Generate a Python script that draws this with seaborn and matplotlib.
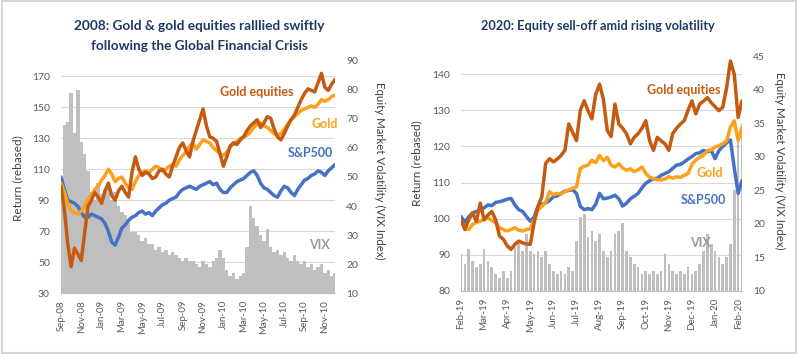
import matplotlib
matplotlib.use("Agg")
import matplotlib.pyplot as plt
from matplotlib.patches import Rectangle
import numpy as np
import seaborn as sns

sns.set_style("white")
plt.rcParams['font.family'] = ['Lato', 'DejaVu Sans']

# ---- 2008 panel (Sep-08 .. Dec-10), one point ~ every 1.4 weeks
labels_08 = ["Sep-08", "Nov-08", "Jan-09", "Mar-09", "May-09", "Jul-09", "Sep-09",
             "Nov-09", "Jan-10", "Mar-10", "May-10", "Jul-10", "Sep-10", "Nov-10"]
spx_08 = [105, 97, 90, 89, 88, 86, 82, 79, 79, 81,
          80, 79, 78, 75, 70, 63, 61, 66, 72, 74,
          77, 79, 80, 82, 83, 81, 82, 80, 83, 85,
          87, 88, 90, 91, 92, 95, 97, 98, 99, 98,
          97, 99, 100, 101, 102, 100, 101, 97, 95, 95,
          98, 100, 102, 103, 104, 106, 108, 109, 106, 101,
          98, 97, 95, 93, 92, 96, 99, 98, 95, 93,
          97, 100, 103, 104, 106, 107, 109, 108, 106, 109,
          111, 113]
gold_08 = [101, 95, 88, 83, 82, 81, 83, 86, 91, 93,
           97, 99, 103, 106, 110, 107, 102, 104, 105, 101,
           98, 97, 102, 106, 108, 109, 108, 110, 112, 111,
           109, 110, 112, 113, 112, 116, 119, 121, 125, 127,
           123, 126, 129, 128, 127, 124, 122, 120, 119, 121,
           124, 127, 128, 130, 131, 132, 134, 137, 139, 140,
           138, 137, 135, 133, 132, 133, 136, 139, 142, 144,
           146, 148, 149, 150, 151, 150, 152, 155, 154, 155,
           157, 158]
geq_08 = [99, 84, 62, 47, 59, 55, 51, 69, 86, 90,
          95, 92, 88, 96, 101, 93, 90, 96, 99, 95,
          92, 108, 118, 110, 106, 108, 107, 104, 105, 109,
          110, 107, 105, 112, 118, 124, 127, 122, 118, 128,
          135, 142, 149, 138, 131, 130, 128, 120, 112, 118,
          125, 127, 126, 129, 131, 135, 138, 140, 142, 137,
          140, 144, 143, 136, 131, 129, 133, 138, 142, 145,
          150, 155, 159, 162, 161, 160, 166, 172, 163, 161,
          165, 168]
vix_08 = [45, 68, 69, 79, 65, 80, 62, 58, 52, 45,
          42, 48, 44, 45, 47, 42, 45, 40, 38, 37,
          34, 31, 31, 30, 28, 29, 27, 27, 25, 26,
          24, 25, 23, 24, 23, 22, 21, 22, 21, 21,
          20, 19, 21, 20, 19, 21, 22, 25, 22, 18,
          16, 17, 15, 16, 17, 26, 40, 36, 33, 30,
          28, 32, 26, 24, 25, 23, 24, 22, 21, 23,
          21, 20, 21, 19, 20, 18, 19, 20, 17, 18,
          16, 17]

# ---- 2020 panel (Feb-19 .. early Mar-20), one point ~ every 3.5 trading days
labels_20 = ["Feb-19", "Mar-19", "Apr-19", "May-19", "Jun-19", "Jul-19", "Aug-19",
             "Sep-19", "Oct-19", "Nov-19", "Dec-19", "Jan-20", "Feb-20"]
spx_20 = [100.6, 99.0, 100.5, 101.6, 102, 102.5, 103, 103.8, 103.6, 104.5,
          104.7, 105, 105.4, 105.6, 103.8, 102.5, 102, 100.6, 99.3, 100.5,
          103.4, 104, 104.3, 105, 106.1, 106.3, 107, 107.6, 107.8, 108,
          107, 103.4, 102.5, 102.8, 102.5, 104, 107, 105.5, 105.7, 106,
          106.5, 105.5, 103.5, 104.3, 105.5, 106.2, 107, 108.5, 109.8, 110.5,
          111, 111.2, 112, 112.5, 113, 113.9, 114.8, 115, 115.7, 116.5,
          117.2, 118, 118.2, 118.9, 118.5, 118.9, 116.6, 118.8, 120, 121,
          121.8, 114, 107, 110.5]
gold_20 = [99.3, 97.5, 97, 98.4, 99, 99.3, 99.8, 100.2, 99.5, 98.9,
           97.5, 97, 96.6, 97, 97.5, 96.8, 96.6, 97, 97.2, 99.7,
           102.5, 103.4, 104.5, 107.5, 106.6, 107, 106.8, 107.5, 108, 108.4,
           108.8, 113.9, 114.5, 114.8, 116.2, 115.5, 117.5, 116, 117, 114.8,
           114.3, 115.2, 114, 113.4, 113.8, 113, 113.5, 114.3, 112.5, 111.5,
           111.1, 110.8, 110.7, 111, 111.6, 111.2, 111.6, 111.4, 112, 112.5,
           115, 116.2, 117, 117.5, 118.9, 119, 119.8, 120.2, 120.7, 121.5,
           125.3, 127.1, 121.6, 125.3]
geq_20 = [99.7, 97, 99.7, 101.6, 99.3, 104.3, 99.7, 101, 102, 99.7,
          95.2, 94.3, 92.5, 91.5, 92.9, 93.8, 93.3, 93, 92.9, 98.9,
          103.4, 106.1, 115.3, 116.6, 115.7, 116.5, 117.5, 118.9, 126.2, 123.9,
          121.6, 130, 132.6, 129.9, 127.6, 134.4, 137.2, 133, 124.4, 122.7,
          131.7, 126.2, 125, 123.5, 120.7, 122.5, 123.5, 125, 127.1, 121.6,
          118.9, 122.5, 121.5, 120.7, 118.9, 123.5, 125, 126.2, 127.1, 130,
          132.6, 129, 131.7, 132.5, 133.5, 132.1, 131, 129.9, 130.8, 136.2,
          143.6, 139.9, 128, 132.6]
vix_20 = [15.5, 14, 16.3, 14.5, 13.5, 14, 16.3, 14.5, 13.5, 12.5,
          12, 13, 12, 13, 16.5, 17.5, 16, 18.5, 16, 15.5,
          16, 15, 16, 14, 13, 12.5, 13, 12.5, 13.5, 13,
          17.5, 21, 21.5, 18, 19, 17.5, 18.5, 16, 15, 16,
          18.5, 19, 20.2, 16, 15, 14, 13.5, 12.5, 13, 12.5,
          13, 12.5, 13, 15.5, 14, 13, 12.5, 13, 12.5, 13.5,
          12.5, 13, 14, 16, 18.5, 17, 16, 15, 14, 15,
          17, 25, 33, 35]

C_SPX = '#4472C4'
C_GOLD = '#FFA01C'
C_GEQ = '#C55A11'
C_VIX = '#BFBFBF'
C_TICK = '#595959'
C_TITLE = '#1F3864'

fig = plt.figure(figsize=(7.98, 3.54), dpi=100)


def panel(rect, spx, gold, geq, vix, ticklabels, step, ylim, yticks, vlim, vticks, barw, notes):
    n = len(spx)
    x = np.arange(n)
    ax = fig.add_axes(rect)
    ax.set_ylim(*ylim)
    ax.set_yticks(yticks)
    ax.yaxis.grid(True, color='#D9D9D9', lw=0.8)
    ax.set_axisbelow(True)

    # VIX bars on their own axis, between the grid and the lines
    ax2 = ax.twinx()
    sns.barplot(x=x, y=vix, ax=ax2, color=C_VIX, width=barw, errorbar=None,
                linewidth=0, saturation=1)
    ax2.set_ylim(*vlim)
    ax2.set_yticks(vticks)
    ax2.set_ylabel('')

    ax3 = ax.twinx()
    sns.lineplot(x=x, y=spx, ax=ax3, color=C_SPX, lw=2.5)
    sns.lineplot(x=x, y=gold, ax=ax3, color=C_GOLD, lw=2.5)
    sns.lineplot(x=x, y=geq, ax=ax3, color=C_GEQ, lw=2.5)
    ax3.set_ylim(*ylim)
    ax3.axis('off')

    ax.set_xlim(0, n - 1)
    ax.set_xticks(range(0, n, step))
    ax.set_xticklabels(ticklabels, rotation=90)
    ax.tick_params(axis='x', length=3, color='#BFBFBF', labelsize=7, labelcolor=C_TICK, pad=2)
    ax.tick_params(axis='y', length=0, labelsize=7.5, labelcolor=C_TICK, pad=8)
    ax2.tick_params(axis='y', length=0, labelsize=7.5, labelcolor=C_TICK, pad=8)
    for s in ['left', 'right', 'top']:
        ax.spines[s].set_visible(False)
    ax.spines['bottom'].set_color('#BFBFBF')
    for s in ax2.spines.values():
        s.set_visible(False)

    for txt, xi, yv, col in notes:
        ax3.text(xi, yv, txt, color=col, fontsize=9, fontweight='bold', ha='center', va='center')
    return ax, ax2


panel([0.0764, 0.1723, 0.3434, 0.6554], spx_08, gold_08, geq_08, vix_08, labels_08, 6,
      (30, 180), range(30, 171, 20), (10, 90), range(10, 91, 10), 1.0,
      [("Gold equities", 57.9, 160, C_GEQ), ("Gold", 78, 139, C_GOLD),
       ("S&P500", 73.8, 120.7, C_SPX), ("VIX", 76.3, 61, '#9A9A9A')])

panel([0.5777, 0.178, 0.3521, 0.6638], spx_20, gold_20, geq_20, vix_20, labels_20, 6,
      (80, 145), range(80, 141, 10), (10, 45), range(10, 46, 5), 0.7,
      [("Gold equities", 57.9, 135.6, C_GEQ), ("Gold", 64.5, 112.6, C_GOLD),
       ("S&P500", 63, 105.2, C_SPX), ("VIX", 62.2, 93.4, '#9A9A9A')])

fig.text(0.25, 1 - 26 / 354, "2008: Gold & gold equities ralllied swiftly", ha='center', va='center',
         fontsize=9.8, fontweight='bold', color=C_TITLE)
fig.text(0.25, 1 - 46 / 354, "following the Global Financial Crisis", ha='center', va='center',
         fontsize=9.8, fontweight='bold', color=C_TITLE)
fig.text(0.749, 1 - 26 / 354, "2020: Equity sell-off amid rising volatility", ha='center', va='center',
         fontsize=9.2, fontweight='bold', color=C_TITLE)

fig.text(0.0226, 0.497, "Return (rebased)", rotation=90, ha='center', va='center', fontsize=8.5, color='#404040')
fig.text(0.5226, 0.54, "Return (rebased)", rotation=90, ha='center', va='center', fontsize=8.5, color='#404040')
fig.text(0.476, 0.517, "Equity Market Volatility (VIX Index)", rotation=270, ha='center', va='center',
         fontsize=8.3, color='#404040')
fig.text(0.977, 0.545, "Equity Market Volatility (VIX Index)", rotation=270, ha='center', va='center',
         fontsize=8.3, color='#404040')

fig.patches.append(Rectangle((0.002, 0.003), 0.996, 0.994, transform=fig.transFigure,
                             fill=False, ec='#D6D6D6', lw=1.5))

fig.savefig("out.png", dpi=100)
